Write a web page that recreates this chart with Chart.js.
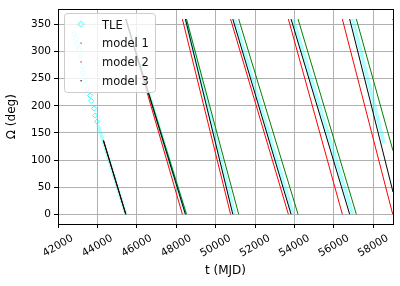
<!DOCTYPE html>
<html>
<head>
<meta charset="utf-8">
<script src="https://cdn.jsdelivr.net/npm/chart.js@4.4.0/dist/chart.umd.min.js"></script>
<style>
  body { margin: 0; background: #fff; }
  canvas { display: block; }
</style>
</head>
<body>
<canvas id="myChart" width="400" height="286"></canvas>
<script>
// tick labels
var xTicks = [42000, 44000, 46000, 48000, 50000, 52000, 54000, 56000, 58000];
var yTicks = [0, 50, 100, 150, 200, 250, 300, 350];

// TLE, first sparse points (t in MJD, Omega in deg)
var tleSparseT     = [42818, 42920, 42971, 43072, 43123, 43224, 43275, 43376, 43478, 43630, 43681, 43833, 43884, 43985];
var tleSparseOmega = [332, 323, 314, 304, 292, 273, 261, 246, 231, 219, 209, 195, 182, 171];

// TLE dense track: start, epochs where Omega wraps 0 -> 360, last point
var tleStart = [44040, 164];
var tleWraps = [45440, 48480, 50960, 53930, 56950];
var tleEnd = [58545, 131];

// models all start from the same state
var modelStart = [44305, 136];
var model1Wraps = [45440, 48520, 51170, 54180, 57140];
var model1End = [59000, 117];
var model2Wraps = [45440, 48312, 50757, 53690, 56429, 58986];
var model2End = [59000, 358];
var model3Wraps = [45440, 48465, 50870, 53827, 56800];
var model3End = [59000, 41];

function pairs(xs, ys) {
    var out = [];
    for (var i = 0; i < xs.length; i++) {
        out.push({x: xs[i], y: ys[i]});
    }
    return out;
}

function track(start, wraps, end) {
    var pts = [{x: start[0], y: start[1]}];
    wraps.forEach(function(w) {
        pts.push({x: w, y: 0}, {x: w, y: null}, {x: w, y: 360});
    });
    pts.push({x: end[0], y: end[1]});
    return pts;
}

var tickFont = {family: 'DejaVu Sans', size: 10.5};
var labelFont = {family: 'DejaVu Sans', size: 12};
var legendFont = {family: 'DejaVu Sans', size: 11.5};

// box around the axes, rotated x labels (centred on the tick, like matplotlib)
// and the legend drawn on top of the data
var frameAndLegend = {
    id: 'frameAndLegend',
    afterDraw: function(chart) {
        var c = chart.ctx;
        var a = chart.chartArea;
        var xs = chart.scales.x;
        c.save();
        c.strokeStyle = '#000';
        c.lineWidth = 1;
        c.strokeRect(Math.round(a.left) + 0.5, Math.round(a.top) + 0.5,
                     Math.round(a.right - a.left), Math.round(a.bottom - a.top));

        c.font = tickFont.size + 'px ' + tickFont.family;
        c.fillStyle = '#000';
        c.textAlign = 'center';
        c.textBaseline = 'middle';
        xTicks.forEach(function(v) {
            c.save();
            c.translate(xs.getPixelForValue(v), a.bottom + 22);
            c.rotate(-Math.PI / 6);
            c.fillText(String(v), 0, 0);
            c.restore();
        });

        // legend box
        var bx = 64.5, by = 13.5, bw = 91, bh = 79, r = 3;
        c.beginPath();
        c.moveTo(bx + r, by);
        c.lineTo(bx + bw - r, by);
        c.arcTo(bx + bw, by, bx + bw, by + r, r);
        c.lineTo(bx + bw, by + bh - r);
        c.arcTo(bx + bw, by + bh, bx + bw - r, by + bh, r);
        c.lineTo(bx + r, by + bh);
        c.arcTo(bx, by + bh, bx, by + bh - r, r);
        c.lineTo(bx, by + r);
        c.arcTo(bx, by, bx + r, by, r);
        c.closePath();
        c.fillStyle = 'rgba(255,255,255,0.8)';
        c.fill();
        c.strokeStyle = '#cccccc';
        c.stroke();

        var items = [
            {text: 'TLE', color: 'cyan', diamond: true},
            {text: 'model 1', color: 'green'},
            {text: 'model 2', color: 'red'},
            {text: 'model 3', color: 'black'}
        ];
        c.font = legendFont.size + 'px ' + legendFont.family;
        c.textBaseline = 'alphabetic';
        c.textAlign = 'left';
        for (var i = 0; i < items.length; i++) {
            var yb = 28.5 + i * 18.8;
            var ym = yb - 4.3;
            if (items[i].diamond) {
                c.beginPath();
                c.moveTo(81, ym - 3);
                c.lineTo(84, ym);
                c.lineTo(81, ym + 3);
                c.lineTo(78, ym);
                c.closePath();
                c.strokeStyle = items[i].color;
                c.lineWidth = 0.8;
                c.stroke();
            } else {
                c.fillStyle = items[i].color;
                c.fillRect(80.5, ym - 0.5, 1.2, 1.2);
            }
            c.fillStyle = '#111';
            c.fillText(items[i].text, 102, yb);
        }
        c.restore();
    }
};

window.addEventListener("load", evt => {
    var ctx = document.getElementById('myChart').getContext('2d');
    var chart = new Chart(ctx, {
        type: 'scatter',
        data: {
            datasets: [{
                label: 'TLE',
                data: pairs(tleSparseT, tleSparseOmega),
                showLine: false,
                pointStyle: 'rectRot',
                pointRadius: 2.6,
                borderWidth: 0.8,
                borderColor: 'cyan',
                backgroundColor: 'rgba(0,0,0,0)',
                order: 5
            }, {
                label: 'TLE',
                data: track(tleStart, tleWraps, tleEnd),
                showLine: true,
                pointRadius: 0,
                borderWidth: 3.5,
                borderColor: 'rgba(0,255,255,0.33)',
                order: 4
            }, {
                label: 'model 1',
                data: track(modelStart, model1Wraps, model1End),
                showLine: true,
                pointRadius: 0,
                borderWidth: 1,
                borderColor: 'green',
                order: 3
            }, {
                label: 'model 2',
                data: track(modelStart, model2Wraps, model2End),
                showLine: true,
                pointRadius: 0,
                borderWidth: 1,
                borderColor: 'red',
                order: 2
            }, {
                label: 'model 3',
                data: track(modelStart, model3Wraps, model3End),
                showLine: true,
                pointRadius: 0,
                borderWidth: 1,
                borderColor: 'black',
                order: 1
            }]
        },
        options: {
            responsive: false,
            animation: false,
            devicePixelRatio: 1,
            layout: { padding: { top: 7, right: 7, left: 0, bottom: 0 } },
            plugins: {
                legend: { display: false },
                tooltip: { enabled: false }
            },
            scales: {
                x: {
                    type: 'linear',
                    min: 42000,
                    max: 59000,
                    afterBuildTicks: function(s) { s.ticks = xTicks.map(function(v) { return {value: v}; }); },
                    afterFit: function(s) { s.height = 62; },
                    border: { display: false },
                    grid: { color: '#b0b0b0', lineWidth: 1, tickColor: '#000', tickLength: 4 },
                    ticks: { display: false, autoSkip: false },
                    title: { display: true, text: 't (MJD)', color: '#000', font: labelFont, padding: {top: 0, bottom: 8} }
                },
                y: {
                    type: 'linear',
                    min: -18,
                    max: 378,
                    afterBuildTicks: function(s) { s.ticks = yTicks.map(function(v) { return {value: v}; }); },
                    afterFit: function(s) { s.width = 58; },
                    border: { display: false },
                    grid: { color: '#b0b0b0', lineWidth: 1, tickColor: '#000', tickLength: 4 },
                    ticks: {
                        color: '#000', font: tickFont, padding: 3,
                        callback: function(v) { return String(v); }
                    },
                    title: { display: true, text: 'Ω (deg)', color: '#000', font: labelFont, padding: {top: 5, bottom: 0} }
                }
            }
        },
        plugins: [frameAndLegend]
    });
});
</script>
</body>
</html>
